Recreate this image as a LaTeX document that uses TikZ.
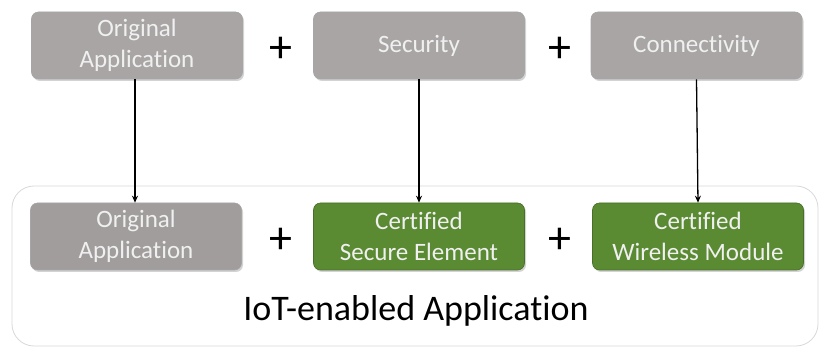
\documentclass[tikz,border=0pt]{standalone}
\usepackage{fontspec}
\setmainfont{Carlito}[Ligatures=NoCommon]
\usetikzlibrary{shadows,arrows.meta}
\definecolor{boxgray}{HTML}{A9A5A5}
\definecolor{boxgraydk}{HTML}{A19D9D}
\definecolor{boxgreen}{HTML}{5A8A32}
\definecolor{framegray}{HTML}{D8D8D8}
\begin{document}
\begin{tikzpicture}[x=1pt,y=-1pt,
  block/.style={rounded corners=7pt, minimum width=211pt, minimum height=67pt,
    text=white!94!black, font=\fontsize{25}{31}\selectfont, align=center,
    draw=black!35, line width=0.6pt,
    drop shadow={opacity=0.35, shadow xshift=1.5pt, shadow yshift=-2pt}},
  graybox/.style={block, fill=boxgray},
  graybox2/.style={block, fill=boxgraydk},
  greenbox/.style={block, fill=boxgreen, draw=boxgreen!80!black},
  plus/.style={font=\fontsize{46}{46}\selectfont},
  link/.style={-{Stealth[length=7pt,width=6pt]}, line width=1.3pt, black}]
\useasboundingbox (0,0) rectangle (820,347);
% frame around the combined application
\draw[framegray, line width=0.8pt, rounded corners=22pt] (12,186) rectangle (818,346);
% top row
\node[graybox] (oa) at (137,45.5) {Original\\Application};
\node[plus] (p1) at (281,50) {+};
\node[graybox] (sec) at (419,45.5) {Security};
\node[plus] (p2) at (560,50) {+};
\node[graybox] (con) at (696.5,45.5) {Connectivity};
% bottom row
\node[graybox2] (oa2) at (136,236.5) {Original\\Application};
\node[plus] (p3) at (281,241) {+};
\node[greenbox] (se) at (419,236.5) {Certified\\Secure Element};
\node[plus] (p4) at (560,241) {+};
\node[greenbox] (wm) at (698,236.5) {Certified\\Wireless Module};
% caption
\node[font=\fontsize{36}{36}\selectfont] (lbl) at (416,311) {IoT-enabled Application};
% connectors
\draw[link] (oa.south -| 135,0) -- (oa2.north -| 135,0);
\draw[link] (sec.south) -- (se.north);
\draw[link] (con.south) -- (wm.north);
\end{tikzpicture}
\end{document}
